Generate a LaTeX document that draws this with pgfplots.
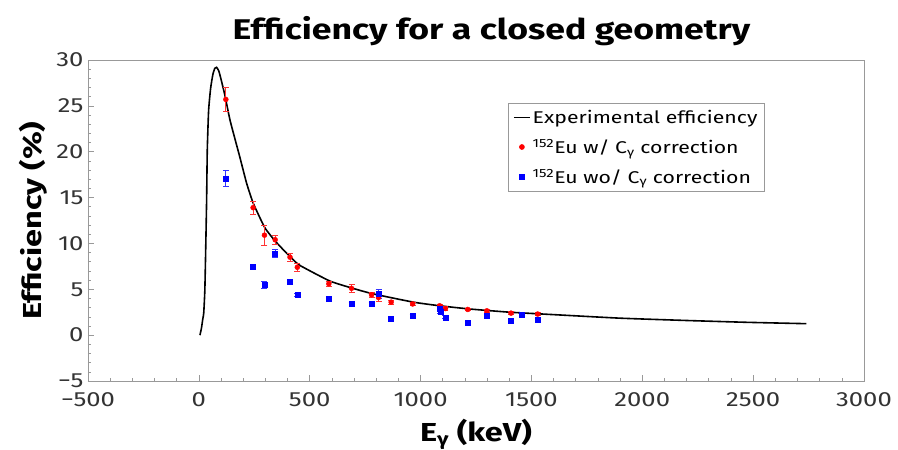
\documentclass[border=0pt]{standalone}
\usepackage{pgfplots}
\pgfplotsset{compat=1.18}
\usepackage{pgfplotstable}
\usepackage{fontspec}
\setmainfont{Fira Sans}[FakeStretch=1.25]

\pgfplotsset{
  shortline/.style={legend image code/.code={\draw[##1] (0pt,0pt) -- (16pt,0pt);}},
  onemark/.style={legend image code/.code={\draw[##1] plot coordinates {(8pt,0pt)};}},
}

% measured efficiency curve
\pgfplotstableread{
E eff
5 0
12 0.8
18 1.8
22 2.4
27 4.9
31 9.5
35 14.7
38 20.2
44 24.5
53 26.9
63 28.4
72 29.1
80 29.2
90 28.8
100 27.9
117 26.2
140 23.5
165 21.2
185 19.4
215 16.6
245 14.4
298 11.7
350 10.1
418 8.4
456 7.6
591 5.9
695 5.1
786 4.5
967 3.6
1087 3.2
1222 2.85
1403 2.5
1628 2.2
1900 1.85
2197 1.6
2470 1.4
2740 1.25
}\curve

% 152Eu with C_gamma correction
\pgfplotstableread{
E eff err
121.8 25.7 1.3
244.7 13.9 0.7
295.9 10.9 1.1
344.3 10.4 0.5
411.1 8.5 0.45
444.0 7.4 0.4
586.3 5.6 0.3
688.7 5.1 0.4
778.9 4.4 0.25
810.5 4.1 0.4
867.4 3.6 0.2
964.1 3.4 0.2
1085.8 3.2 0.2
1089.7 3.1 0.2
1112.1 2.9 0.2
1212.9 2.8 0.15
1299.1 2.65 0.15
1408.0 2.4 0.15
1457.6 2.2 0.15
1528.1 2.3 0.15
}\withcorr

% 152Eu without C_gamma correction
\pgfplotstableread{
E eff err
121.8 17.1 0.85
244.7 7.45 0.3
295.9 5.45 0.4
344.3 8.9 0.4
411.1 5.8 0.3
444.0 4.4 0.2
586.3 4.0 0.25
688.7 3.45 0.15
778.9 3.45 0.15
810.5 4.5 0.5
867.4 1.75 0.15
964.1 2.1 0.15
1085.8 2.9 0.2
1089.7 2.55 0.2
1112.1 1.95 0.15
1212.9 1.4 0.15
1299.1 2.1 0.15
1408.0 1.55 0.15
1457.6 2.2 0.15
1528.1 1.7 0.15
}\withoutcorr

\begin{document}
\begin{tikzpicture}
\path[use as bounding box] (-88pt,-69pt) rectangle (810pt,381pt);
\begin{axis}[
    at={(0,0)}, anchor=south west,
    scale only axis,
    width=776pt, height=321pt,
    xmin=-500, xmax=3000,
    ymin=-5, ymax=30,
    xtick={-500,0,500,1000,1500,2000,2500,3000},
    xticklabels={−500,0,500,1000,1500,2000,2500,3000},
    ytick={-5,0,5,10,15,20,25,30},
    yticklabels={−5,0,5,10,15,20,25,30},
    minor x tick num=4,
    minor y tick num=4,
    tick pos=left,
    tick align=inside,
    major tick length=6pt,
    minor tick length=3pt,
    every tick/.style={gray!80, line width=0.6pt},
    axis line style={gray!80, line width=0.8pt},
    ticklabel style={font=\fontsize{20.5}{20.5}\selectfont, text=black!80},
    xticklabel style={yshift=-8pt},
    yticklabel style={xshift=-1pt},
    title={\bfseries Efficiency for a closed geometry},
    title style={font=\fontsize{28.5}{28.5}\selectfont\bfseries, at={(0.52,1)}, yshift=5pt},
    xlabel={\bfseries E\textsubscript{γ} (keV)},
    ylabel={\bfseries Efficiency (\%)},
    xlabel style={font=\fontsize{26}{26}\selectfont, yshift=-6pt},
    ylabel style={font=\fontsize{26}{26}\selectfont, yshift=2pt},
    legend style={at={(0.541,0.866)}, anchor=north west,
        draw=gray!80, line width=0.6pt,
        font=\fontsize{17}{18}\selectfont,
        row sep=10pt, inner sep=5pt},
    legend cell align=left,
]
\addplot[black, line width=1.6pt, smooth, tension=0.3, no markers, shortline]
    table[x=E, y=eff] {\curve};
\addlegendentry{Experimental efficiency}
\addplot[red, only marks, mark=*, mark size=2.5pt, onemark,
    error bars/.cd, y dir=both, y explicit,
    error bar style={red!80, line width=0.8pt},
    error mark options={rotate=90, mark size=3pt, red!80, line width=0.8pt}]
    table[x=E, y=eff, y error=err] {\withcorr};
\addlegendentry{\textsuperscript{152}Eu w/ C\textsubscript{γ} correction}
\addplot[blue, only marks, mark=square*, mark size=2.5pt, onemark,
    error bars/.cd, y dir=both, y explicit,
    error bar style={blue!80, line width=0.8pt},
    error mark options={rotate=90, mark size=3pt, blue!80, line width=0.8pt}]
    table[x=E, y=eff, y error=err] {\withoutcorr};
\addlegendentry{\textsuperscript{152}Eu wo/ C\textsubscript{γ} correction}
\end{axis}
\end{tikzpicture}
\end{document}
